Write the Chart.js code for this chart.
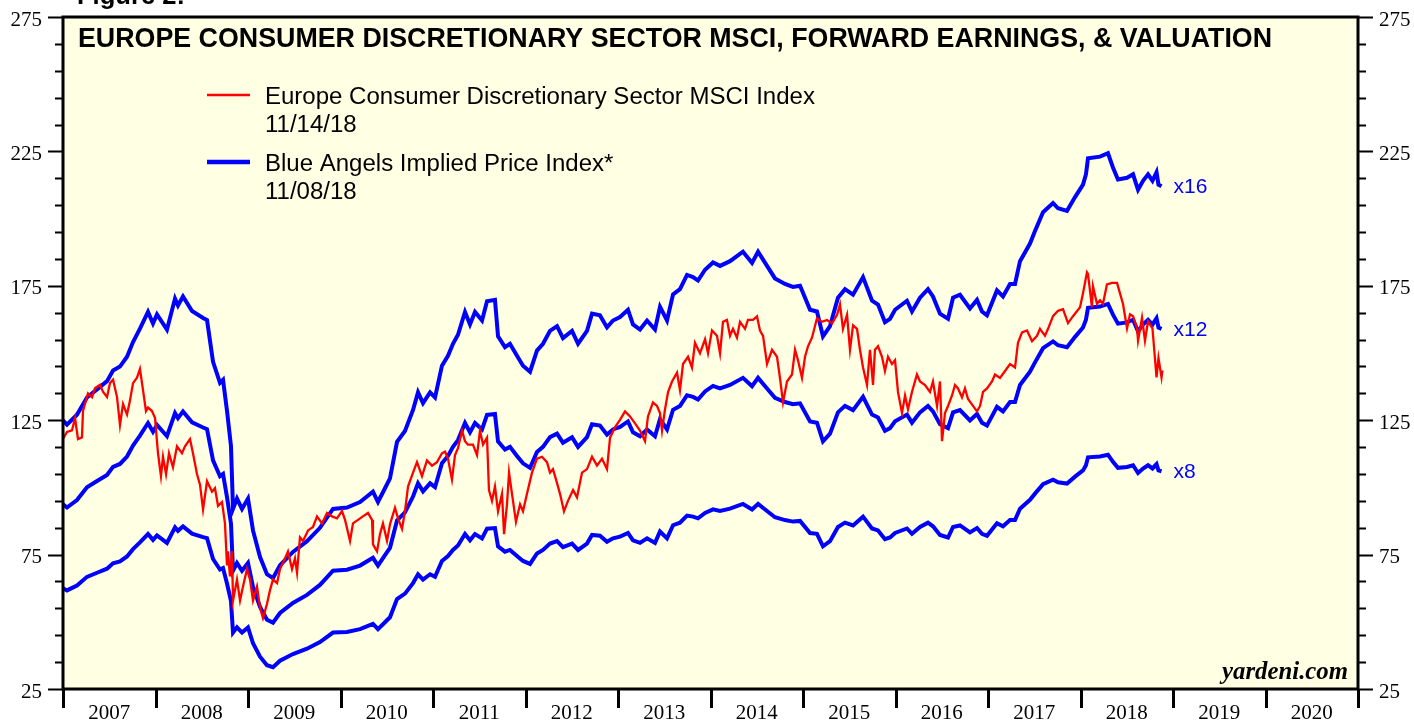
<!DOCTYPE html>
<html>
<head>
<meta charset="utf-8">
<title>Europe Consumer Discretionary Sector MSCI</title>
<script src="https://cdn.jsdelivr.net/npm/chart.js@4/dist/chart.umd.min.js"></script>
<style>
    html, body { margin: 0; padding: 0; background: #fff; }
    #wrap { width: 1414px; height: 721px; }
</style>
</head>
<body>
<div id="wrap"><canvas id="valuationChart" width="1414" height="721"></canvas></div>
<script>
// Europe Consumer Discretionary Sector MSCI Index (weekly-ish readings)
const indexDates = [
    2007.000, 2007.043, 2007.097, 2007.130, 2007.162, 2007.205, 2007.216, 2007.270, 2007.314, 2007.346,
    2007.400, 2007.432, 2007.476, 2007.508, 2007.541, 2007.584, 2007.616, 2007.649, 2007.692, 2007.724,
    2007.757, 2007.800, 2007.832, 2007.865, 2007.897, 2007.919, 2007.962, 2007.995, 2008.027, 2008.059,
    2008.081, 2008.114, 2008.146, 2008.189, 2008.232, 2008.286, 2008.319, 2008.373, 2008.405, 2008.449,
    2008.481, 2008.514, 2008.557, 2008.611, 2008.643, 2008.676, 2008.719, 2008.751, 2008.773, 2008.784,
    2008.805, 2008.827, 2008.838, 2008.881, 2008.914, 2008.946, 2008.989, 2009.022, 2009.054, 2009.097,
    2009.130, 2009.162, 2009.205, 2009.238, 2009.270, 2009.314, 2009.346, 2009.400, 2009.432, 2009.476,
    2009.508, 2009.530, 2009.562, 2009.595, 2009.649, 2009.703, 2009.746, 2009.800, 2009.854, 2009.908,
    2009.962, 2010.016, 2010.049, 2010.103, 2010.135, 2010.189, 2010.243, 2010.297, 2010.341, 2010.351,
    2010.395, 2010.427, 2010.459, 2010.503, 2010.535, 2010.589, 2010.622, 2010.665, 2010.697, 2010.730,
    2010.784, 2010.827, 2010.881, 2010.935, 2010.989, 2011.043, 2011.097, 2011.130, 2011.162, 2011.205,
    2011.238, 2011.270, 2011.314, 2011.346, 2011.378, 2011.432, 2011.476, 2011.508, 2011.541, 2011.584,
    2011.605, 2011.638, 2011.670, 2011.703, 2011.746, 2011.768, 2011.800, 2011.822, 2011.854, 2011.897,
    2011.941, 2011.973, 2012.016, 2012.070, 2012.124, 2012.178, 2012.232, 2012.265, 2012.297, 2012.341,
    2012.373, 2012.416, 2012.459, 2012.514, 2012.557, 2012.611, 2012.665, 2012.719, 2012.773, 2012.827,
    2012.881, 2012.914, 2012.968, 2013.022, 2013.076, 2013.130, 2013.184, 2013.238, 2013.292, 2013.324,
    2013.378, 2013.422, 2013.454, 2013.476, 2013.508, 2013.541, 2013.584, 2013.638, 2013.670, 2013.703,
    2013.757, 2013.800, 2013.832, 2013.886, 2013.941, 2013.973, 2014.016, 2014.070, 2014.103, 2014.135,
    2014.178, 2014.211, 2014.243, 2014.286, 2014.319, 2014.373, 2014.405, 2014.459, 2014.503, 2014.535,
    2014.568, 2014.611, 2014.665, 2014.719, 2014.751, 2014.784, 2014.827, 2014.881, 2014.914, 2014.946,
    2014.989, 2015.022, 2015.054, 2015.097, 2015.151, 2015.205, 2015.259, 2015.314, 2015.368, 2015.400,
    2015.432, 2015.476, 2015.508, 2015.541, 2015.584, 2015.616, 2015.649, 2015.692, 2015.724, 2015.757,
    2015.778, 2015.811, 2015.854, 2015.886, 2015.919, 2015.962, 2015.995, 2016.027, 2016.070, 2016.103,
    2016.135, 2016.178, 2016.232, 2016.265, 2016.319, 2016.373, 2016.405, 2016.449, 2016.481, 2016.503,
    2016.535, 2016.568, 2016.611, 2016.643, 2016.676, 2016.719, 2016.751, 2016.784, 2016.838, 2016.881,
    2016.914, 2016.946, 2016.989, 2017.043, 2017.076, 2017.130, 2017.184, 2017.238, 2017.292, 2017.324,
    2017.368, 2017.422, 2017.476, 2017.530, 2017.562, 2017.616, 2017.649, 2017.703, 2017.757, 2017.811,
    2017.865, 2017.919, 2017.995, 2018.027, 2018.070, 2018.081, 2018.124, 2018.135, 2018.178, 2018.211,
    2018.243, 2018.286, 2018.341, 2018.395, 2018.427, 2018.459, 2018.503, 2018.535, 2018.568, 2018.611,
    2018.622, 2018.665, 2018.697, 2018.730, 2018.778, 2018.800, 2018.822, 2018.843, 2018.876, 2018.886
];
const indexValues = [
    118, 120.6, 121.2, 125.8, 118, 118.6, 128.4, 135, 133.6, 136.9,
    138.2, 135.6, 133.6, 138.8, 140.1, 133.6, 123.2, 131, 127.1, 132.3,
    138.8, 140.8, 144.1, 136.2, 128.4, 129.7, 128.4, 125.8, 112.7, 104.2,
    111.4, 104.9, 112.7, 107.5, 115.3, 112.7, 115.3, 118, 112.7, 104.9,
    101, 91.8, 102.3, 98.4, 99.7, 93.1, 94.5, 86.6, 71, 76.2,
    66.9, 76.2, 57.9, 65.7, 57.9, 63.1, 69.6, 65.7, 57.9, 63.1,
    55.3, 51.4, 56.6, 61.8, 65.7, 64.4, 69.6, 73.6, 76.2, 69.6,
    73.6, 68.3, 81.4, 80.1, 84, 85.3, 89.2, 86.6, 90.5, 89.2,
    88.5, 91.2, 87.9, 80.1, 86.6, 87.9, 89.2, 90.5, 87.9, 78.8,
    76.2, 82.7, 86.6, 80.1, 86.3, 92.4, 88.5, 84.6, 91.1, 100.3,
    105.5, 109.4, 104.2, 110, 108.1, 109.4, 112.7, 113.3, 110.7, 102.9,
    112, 114.6, 121.1, 117.2, 115.9, 115.9, 112, 121.1, 115.9, 118.5,
    99, 95, 100.3, 91.1, 97.6, 82.6, 93.7, 105.5, 97.6, 87.2,
    93.7, 91.1, 97.6, 105.5, 110.7, 111.4, 109.4, 105.5, 106.8, 101.6,
    97.6, 91.1, 95, 99, 96.3, 105.5, 106.8, 111.4, 108.1, 110.7,
    106.8, 118.5, 122.4, 125.1, 128.3, 126.4, 123.8, 121.1, 117.2, 126.4,
    131.6, 130.3, 127.7, 121.1, 129, 135.5, 139.4, 142.7, 136.2, 145.9,
    148.6, 144.6, 153.8, 149.9, 155.1, 149.9, 158.4, 156.4, 149.9, 161.6,
    162.3, 156.4, 159, 155.7, 161.6, 159, 162.3, 162.3, 163.6, 158.3,
    156.4, 145.9, 151.2, 148.6, 140.7, 131.6, 139.4, 142, 151.2, 147.3,
    140.7, 148.6, 152.5, 155.7, 162.9, 161.6, 162.3, 161, 164.2, 168.1,
    159, 164.2, 151.2, 160.3, 159, 151.2, 144.6, 138.1, 151.2, 138.1,
    151.2, 152.5, 148.6, 143.3, 148.6, 145.9, 147.3, 135.5, 127.7, 134.2,
    129, 135.5, 142, 139.4, 138.1, 135.5, 139.4, 130.3, 139.4, 117.2,
    127.7, 130.3, 134.2, 138.1, 136.8, 133.5, 136.8, 132.9, 130.3, 128.3,
    130.3, 135.5, 136.8, 139.4, 142, 140.7, 143.3, 145.9, 144.6, 153.8,
    157.7, 158.4, 154.4, 156.4, 159, 156.4, 159, 163.7, 165.7, 166.3,
    161.1, 163.7, 167, 172.2, 180, 179.4, 167, 174.8, 168.3, 169.6,
    168.3, 175.5, 176.1, 176.1, 172.2, 168.3, 159.2, 164.4, 163.7, 159.2,
    154.6, 163.1, 154.6, 161.8, 159.2, 150, 140.9, 148.1, 140.9, 143.5
];

// Forward earnings; the blue lines are these times the P/E multiples
const earningsDates = [
    2007.000, 2007.043, 2007.151, 2007.259, 2007.368, 2007.476, 2007.541, 2007.616, 2007.692, 2007.757,
    2007.832, 2007.919, 2007.973, 2008.016, 2008.124, 2008.211, 2008.243, 2008.297, 2008.395, 2008.514,
    2008.557, 2008.622, 2008.697, 2008.730, 2008.773, 2008.816, 2008.838, 2008.881, 2008.935, 2009.000,
    2009.054, 2009.130, 2009.205, 2009.270, 2009.346, 2009.486, 2009.638, 2009.778, 2009.919, 2010.070,
    2010.211, 2010.351, 2010.405, 2010.481, 2010.535, 2010.611, 2010.697, 2010.784, 2010.838, 2010.892,
    2010.968, 2011.022, 2011.097, 2011.162, 2011.216, 2011.270, 2011.346, 2011.400, 2011.454, 2011.530,
    2011.584, 2011.670, 2011.703, 2011.778, 2011.832, 2011.908, 2011.973, 2012.049, 2012.124, 2012.189,
    2012.265, 2012.341, 2012.405, 2012.503, 2012.568, 2012.665, 2012.719, 2012.805, 2012.881, 2012.946,
    2013.022, 2013.108, 2013.162, 2013.238, 2013.314, 2013.400, 2013.454, 2013.530, 2013.595, 2013.670,
    2013.746, 2013.811, 2013.865, 2013.941, 2014.027, 2014.103, 2014.211, 2014.351, 2014.449, 2014.514,
    2014.611, 2014.697, 2014.805, 2014.892, 2014.968, 2015.076, 2015.151, 2015.216, 2015.292, 2015.378,
    2015.454, 2015.541, 2015.649, 2015.746, 2015.811, 2015.886, 2015.941, 2015.995, 2016.124, 2016.178,
    2016.265, 2016.351, 2016.405, 2016.481, 2016.568, 2016.622, 2016.697, 2016.805, 2016.881, 2016.935,
    2016.989, 2017.097, 2017.162, 2017.238, 2017.292, 2017.346, 2017.454, 2017.508, 2017.595, 2017.703,
    2017.757, 2017.854, 2017.941, 2018.027, 2018.059, 2018.081, 2018.211, 2018.297, 2018.351, 2018.405,
    2018.503, 2018.568, 2018.622, 2018.676, 2018.730, 2018.778, 2018.822, 2018.843, 2018.876
];
const forwardEarnings = [
    7.81, 7.71, 7.94, 8.34, 8.53, 8.72, 8.97, 9.06, 9.29, 9.63,
    9.94, 10.33, 10.06, 10.27, 9.92, 10.64, 10.48, 10.69, 10.35, 10.19,
    10.14, 9.17, 8.68, 8.75, 8.03, 7.21, 5.75, 5.99, 5.75, 5.99,
    5.25, 4.63, 4.23, 4.14, 4.44, 4.75, 5.00, 5.31, 5.75, 5.78,
    5.91, 6.15, 5.91, 6.23, 6.46, 7.31, 7.56, 8.05, 8.46, 8.21,
    8.46, 8.34, 9.08, 9.31, 9.59, 9.80, 10.33, 10.04, 10.33, 10.13,
    10.58, 10.61, 9.76, 9.51, 9.59, 9.31, 9.08, 8.94, 9.43, 9.59,
    9.89, 10.00, 9.72, 9.89, 9.59, 9.89, 10.29, 10.25, 9.97, 10.13,
    10.21, 10.38, 10.04, 9.92, 10.13, 9.92, 10.45, 10.13, 10.74, 10.86,
    11.19, 11.14, 11.06, 11.31, 11.48, 11.40, 11.51, 11.73, 11.47, 11.73,
    11.40, 11.11, 10.98, 10.91, 10.94, 10.38, 10.34, 9.76, 10.00, 10.66,
    10.86, 10.73, 11.14, 10.59, 10.50, 10.09, 10.17, 10.38, 10.59, 10.34,
    10.66, 10.86, 10.69, 10.29, 10.17, 10.66, 10.73, 10.41, 10.61, 10.34,
    10.25, 10.83, 10.69, 10.98, 10.98, 11.51, 11.92, 12.21, 12.65, 12.86,
    12.74, 12.68, 13.00, 13.29, 13.53, 13.90, 13.94, 14.02, 13.69, 13.41,
    13.45, 13.53, 13.17, 13.38, 13.53, 13.38, 13.58, 13.29, 13.25
];
const multiples = [16, 12, 8];

const yearLabels = [2007, 2008, 2009, 2010, 2011, 2012, 2013, 2014, 2015, 2016, 2017, 2018, 2019, 2020];
const yMajorTicks = [25, 75, 125, 175, 225, 275];
const yMinorStep = 10;

const chartTitle = 'EUROPE CONSUMER DISCRETIONARY SECTOR MSCI, FORWARD EARNINGS, & VALUATION';
const legendLabels = [
    ['Europe Consumer Discretionary Sector MSCI Index', '11/14/18'],
    ['Blue Angels Implied Price Index*', '11/08/18']
];

const RED = '#ff0000';
const BLUE = '#0000ff';
const CREAM = '#ffffe3';
const SANS = '"Liberation Sans", Arial, sans-serif';
const SERIF = '"Liberation Serif", "Times New Roman", serif';

function fitFont(ctx, text, weight, family, targetWidth) {
    ctx.font = weight + ' 100px ' + family;
    const size = targetWidth / ctx.measureText(text).width * 100;
    return weight + ' ' + size.toFixed(2) + 'px ' + family;
}

// drop the label overhang paddings so the plot box keeps its exact place
function noPadding(axis) {
    axis.paddingTop = 0;
    axis.paddingBottom = 0;
    axis.paddingLeft = 0;
    axis.paddingRight = 0;
}

const yardeniPlugin = {
    id: 'yardeniPlugin',
    beforeDraw(chart) {
        const { ctx, chartArea: a } = chart;
        ctx.save();
        ctx.fillStyle = '#ffffff';
        ctx.fillRect(0, 0, chart.width, chart.height);
        ctx.fillStyle = CREAM;
        ctx.fillRect(a.left, a.top, a.right - a.left, a.bottom - a.top);
        ctx.restore();
    },
    afterDraw(chart) {
        const { ctx, chartArea: a } = chart;
        const xs = chart.scales.x;
        const ys = chart.scales.y;
        ctx.save();

        // tick marks outside the frame
        ctx.strokeStyle = '#000';
        ctx.lineWidth = 2;
        ctx.beginPath();
        for (let v = yMajorTicks[0]; v <= yMajorTicks[yMajorTicks.length - 1]; v += yMinorStep) {
            const y = Math.round(ys.getPixelForValue(v)) + 0.5;
            const len = yMajorTicks.includes(v) ? 15 : 8;
            ctx.moveTo(a.left - len, y);
            ctx.lineTo(a.left, y);
            ctx.moveTo(a.right, y);
            ctx.lineTo(a.right + len, y);
        }
        ctx.stroke();
        ctx.lineWidth = 3;
        ctx.beginPath();
        yearLabels.concat([yearLabels[yearLabels.length - 1] + 1]).forEach(yr => {
            const x = Math.round(xs.getPixelForValue(yr)) + 0.5;
            ctx.moveTo(x, a.bottom);
            ctx.lineTo(x, a.bottom + 19);
        });
        ctx.stroke();

        // frame
        ctx.lineWidth = 3;
        ctx.strokeRect(a.left, a.top, a.right - a.left, a.bottom - a.top);

        // title
        ctx.fillStyle = '#000';
        ctx.textBaseline = 'alphabetic';
        ctx.textAlign = 'left';
        ctx.font = fitFont(ctx, chartTitle, 'bold', SANS, 1194);
        ctx.fillText(chartTitle, 78, 47);

        // caption cut at the top of the page
        ctx.font = fitFont(ctx, 'Figure 2:', 'bold', SANS, 108);
        ctx.fillText('Figure 2:', 77, 4);

        // legend
        const legendFont = fitFont(ctx, legendLabels[0][0], 'normal', SANS, 550);
        const legendRows = [{ ds: 0, y: 95, w: 2.5 }, { ds: 1, y: 162, w: 4.5 }];
        legendRows.forEach((row, i) => {
            ctx.strokeStyle = chart.data.datasets[row.ds].borderColor;
            ctx.lineWidth = row.w;
            ctx.beginPath();
            ctx.moveTo(207, row.y);
            ctx.lineTo(250, row.y);
            ctx.stroke();
            ctx.fillStyle = '#000';
            ctx.font = legendFont;
            ctx.fillText(legendLabels[i][0], 265, row.y + 9);
            ctx.fillText(legendLabels[i][1], 265, row.y + 37);
        });

        // multiple labels next to the ends of the blue lines
        ctx.fillStyle = BLUE;
        ctx.font = '21px ' + SANS;
        ctx.textBaseline = 'middle';
        const last = forwardEarnings[forwardEarnings.length - 1];
        const lastX = xs.getPixelForValue(earningsDates[earningsDates.length - 1]);
        multiples.forEach(m => {
            ctx.fillText('x' + m, lastX + 12, ys.getPixelForValue(last * m) + 1);
        });

        // watermark
        ctx.fillStyle = '#000';
        ctx.textBaseline = 'alphabetic';
        ctx.textAlign = 'right';
        ctx.font = fitFont(ctx, 'yardeni.com', 'italic bold', SERIF, 126);
        ctx.fillText('yardeni.com', 1348, 679);

        ctx.restore();
    }
};

document.addEventListener('DOMContentLoaded', function() {
    const ctx = document.getElementById('valuationChart').getContext('2d');

    const datasets = [{
        label: legendLabels[0][0],
        data: indexDates.map((d, i) => ({ x: d, y: indexValues[i] })),
        borderColor: RED,
        borderWidth: 2.3,
        pointRadius: 0,
        tension: 0,
        fill: false
    }];
    multiples.forEach(m => {
        datasets.push({
            label: 'x' + m,
            data: earningsDates.map((d, i) => ({ x: d, y: forwardEarnings[i] * m })),
            borderColor: BLUE,
            borderWidth: 4,
            pointRadius: 0,
            tension: 0,
            fill: false
        });
    });

    const yAxis = (position, width) => ({
        type: 'linear',
        position: position,
        min: yMajorTicks[0],
        max: yMajorTicks[yMajorTicks.length - 1],
        afterBuildTicks: axis => { axis.ticks = yMajorTicks.map(v => ({ value: v })); },
        afterFit: axis => { axis.width = width; noPadding(axis); },
        grid: { display: false, drawTicks: false },
        border: { display: false },
        ticks: {
            color: '#000',
            padding: 21,
            labelOffset: 3,
            font: { family: SERIF, size: 21 }
        }
    });

    new Chart(ctx, {
        type: 'line',
        data: { datasets: datasets },
        plugins: [yardeniPlugin],
        options: {
            responsive: false,
            animation: false,
            devicePixelRatio: 1,
            layout: { padding: { top: 17, left: 0, right: 0, bottom: 0 } },
            plugins: {
                legend: { display: false },
                tooltip: { enabled: false }
            },
            scales: {
                x: {
                    type: 'linear',
                    min: yearLabels[0],
                    max: yearLabels[yearLabels.length - 1] + 1,
                    afterBuildTicks: axis => { axis.ticks = yearLabels.map(y => ({ value: y + 0.5 })); },
                    afterFit: axis => { axis.height = 32; noPadding(axis); },
                    grid: { display: false, drawTicks: false },
                    border: { display: false },
                    ticks: {
                        color: '#000',
                        padding: 12,
                        autoSkip: false,
                        maxRotation: 0,
                        font: { family: SERIF, size: 21 },
                        callback: value => String(Math.floor(value))
                    }
                },
                y: yAxis('left', 63),
                y2: yAxis('right', 56)
            }
        }
    });
});
</script>
</body>
</html>
